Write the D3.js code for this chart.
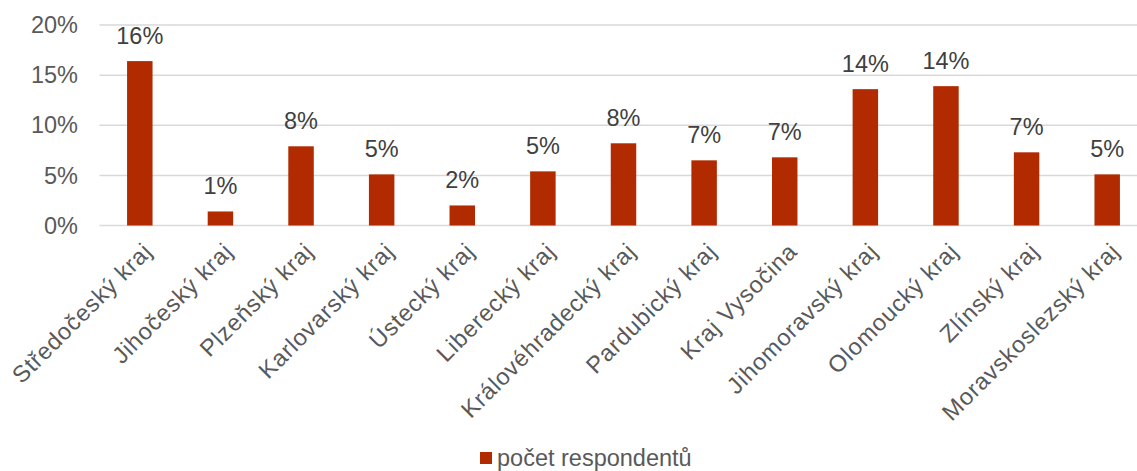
<!DOCTYPE html>
<html>
<head>
<meta charset="utf-8">
<script src="https://cdn.jsdelivr.net/npm/d3@7"></script>
<style>
  html, body { margin: 0; padding: 0; background: #fff; }
  svg { display: block; font-family: "Liberation Sans", Arial, sans-serif; }
</style>
</head>
<body>
<svg id="chart" width="1137" height="471"></svg>
<script>
// Share of respondents by region
const regions = [
  "Středočeský kraj", "Jihočeský kraj", "Plzeňský kraj", "Karlovarský kraj",
  "Ústecký kraj", "Liberecký kraj", "Královéhradecký kraj", "Pardubický kraj",
  "Kraj Vysočina", "Jihomoravský kraj", "Olomoucký kraj", "Zlínský kraj",
  "Moravskoslezský kraj"
];
const shares = [0.164, 0.014, 0.079, 0.051, 0.020, 0.054, 0.082, 0.065, 0.068, 0.136, 0.139, 0.073, 0.051];
const yTicks = [0, 0.05, 0.10, 0.15, 0.20];
const seriesName = "počet respondentů";

const svg = d3.select("#chart");
const W = 1137, H = 471;
const plot = { left: 99.5, right: 1147.5, top: 25, bottom: 225.5 };
const fontSize = 23.5;

const x = d3.scaleBand()
  .domain(regions)
  .range([plot.left, plot.right])
  .paddingInner(0.684)
  .paddingOuter(0.342);

const y = d3.scaleLinear()
  .domain([0, 0.20])
  .range([plot.bottom, plot.top]);

const pct = d3.format(".0%");

// horizontal gridlines
svg.append("g")
  .selectAll("line")
  .data(yTicks)
  .join("line")
  .attr("x1", plot.left)
  .attr("x2", W)
  .attr("y1", d => y(d))
  .attr("y2", d => y(d))
  .attr("stroke", "#d9d9d9")
  .attr("stroke-width", 1.5);

// y-axis tick labels
svg.append("g")
  .selectAll("text")
  .data(yTicks)
  .join("text")
  .attr("x", 78)
  .attr("y", d => y(d))
  .attr("dy", "0.35em")
  .attr("text-anchor", "end")
  .attr("font-size", fontSize)
  .attr("fill", "#595959")
  .text(d => pct(d));

// bars
svg.append("g")
  .selectAll("rect")
  .data(regions)
  .join("rect")
  .attr("x", d => x(d))
  .attr("width", x.bandwidth())
  .attr("y", (d, i) => y(shares[i]))
  .attr("height", (d, i) => y(0) - y(shares[i]))
  .attr("fill", "#b22a00");

// value labels
svg.append("g")
  .selectAll("text")
  .data(regions)
  .join("text")
  .attr("x", d => x(d) + x.bandwidth() / 2)
  .attr("y", (d, i) => y(shares[i]) - 17)
  .attr("text-anchor", "middle")
  .attr("font-size", fontSize)
  .attr("fill", "#404040")
  .text((d, i) => pct(Math.round(shares[i] * 100) / 100));

// category labels, rotated
svg.append("g")
  .selectAll("text")
  .data(regions)
  .join("text")
  .attr("transform", d => `translate(${x(d) + x.bandwidth() / 2 + 8},247) rotate(-45)`)
  .attr("text-anchor", "end")
  .attr("dy", "0.35em")
  .attr("font-size", fontSize)
  .attr("letter-spacing", 0.8)
  .attr("fill", "#595959")
  .text(d => d);

// legend
const legend = svg.append("g");
legend.append("rect")
  .attr("x", 480).attr("y", 452)
  .attr("width", 12).attr("height", 12)
  .attr("fill", "#b22a00");
legend.append("text")
  .attr("x", 497).attr("y", 458)
  .attr("dy", "0.35em")
  .attr("font-size", fontSize)
  .attr("fill", "#595959")
  .text(seriesName);
</script>
</body>
</html>
